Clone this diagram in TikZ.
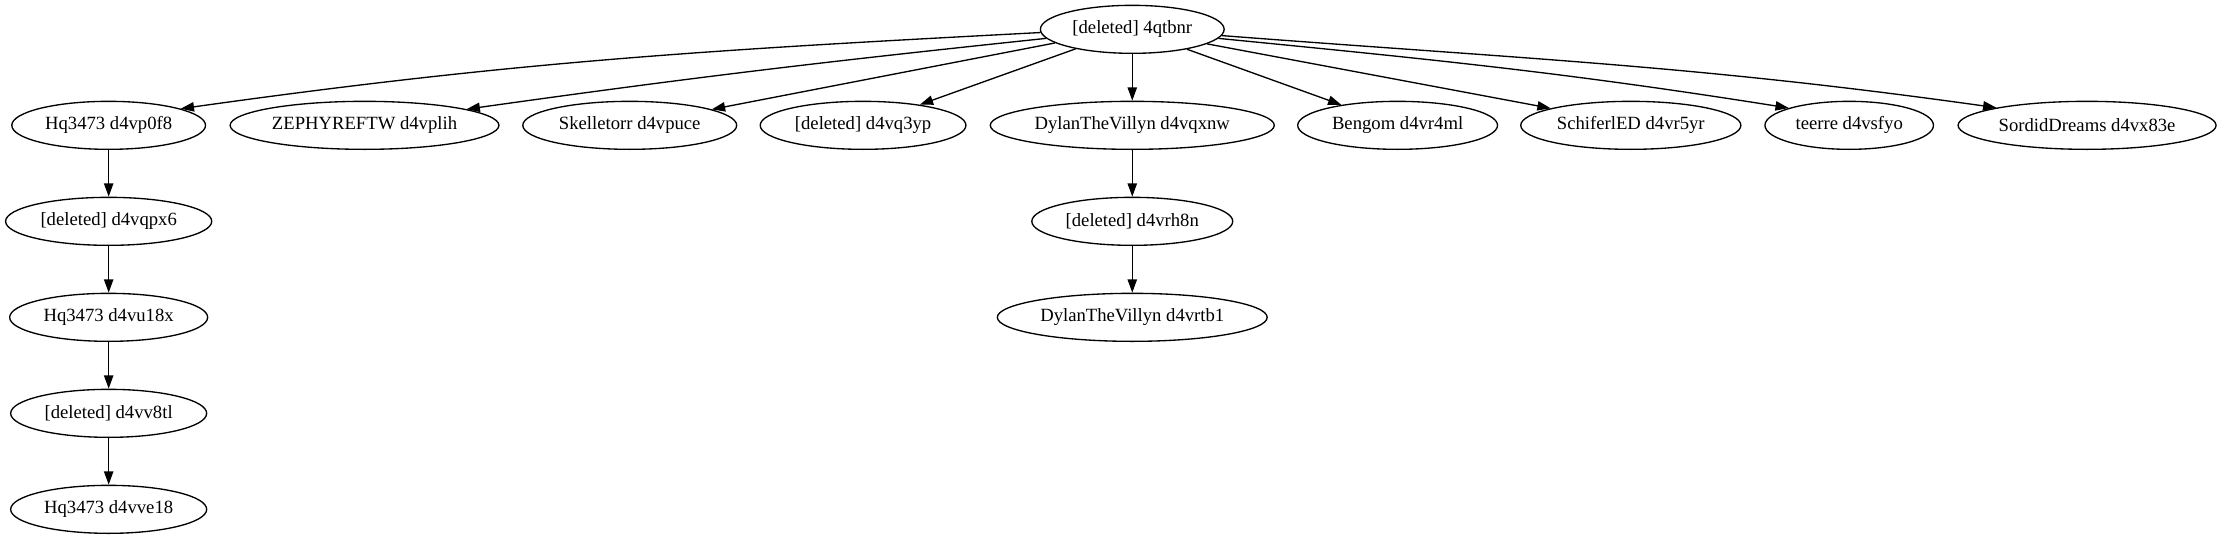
\documentclass[tikz,border=0pt]{standalone}
\usepackage{fontspec}
\setmainfont{Liberation Serif}
\usetikzlibrary{shapes.geometric, arrows.meta}
\begin{document}
\begin{tikzpicture}[x=1pt,y=1pt,
  nd/.style={draw, ellipse, inner sep=0pt, minimum height=36pt, line width=1pt,
    font=\fontsize{14}{16}\selectfont},
  edge/.style={-{Triangle[length=10pt,width=7pt]}, line width=1pt}]
\useasboundingbox (0,0) rectangle (1666.5,-404.25);
% root and first row
\node[nd, minimum width=137.8pt] (root) at (849.2,-22) {\makebox[0pt]{[deleted] 4qtbnr}};
\node[nd, minimum width=145.3pt] (hqa) at (81.5,-94) {\makebox[0pt]{Hq3473 d4vp0f8}};
\node[nd, minimum width=201.6pt] (zeph) at (273.4,-94) {\makebox[0pt]{ZEPHYREFTW d4vplih}};
\node[nd, minimum width=160.4pt] (skel) at (472.3,-94) {\makebox[0pt]{Skelletorr d4vpuce}};
\node[nd, minimum width=154.3pt] (qthree) at (647.3,-94) {\makebox[0pt]{[deleted] d4vq3yp}};
\node[nd, minimum width=213pt] (dylana) at (849.2,-94) {\makebox[0pt]{DylanTheVillyn d4vqxnw}};
\node[nd, minimum width=149.9pt] (bengom) at (1048.2,-94) {\makebox[0pt]{Bengom d4vr4ml}};
\node[nd, minimum width=165.1pt] (schif) at (1223.1,-94) {\makebox[0pt]{SchiferlED d4vr5yr}};
\node[nd, minimum width=126.4pt] (teerre) at (1386.9,-94) {\makebox[0pt]{teerre d4vsfyo}};
\node[nd, minimum width=193.5pt] (sordid) at (1565.3,-94) {\makebox[0pt]{SordidDreams d4vx83e}};
% left chain
\node[nd, minimum width=154.6pt] (qpx) at (81.5,-166) {\makebox[0pt]{[deleted] d4vqpx6}};
\node[nd, minimum width=148.5pt] (hqb) at (81.5,-238) {\makebox[0pt]{Hq3473 d4vu18x}};
\node[nd, minimum width=147pt] (veight) at (81.5,-310) {\makebox[0pt]{[deleted] d4vv8tl}};
\node[nd, minimum width=147pt] (hqc) at (81.5,-382) {\makebox[0pt]{Hq3473 d4vve18}};
% middle chain
\node[nd, minimum width=150.7pt] (rheight) at (849.2,-166) {\makebox[0pt]{[deleted] d4vrh8n}};
\node[nd, minimum width=202.4pt] (dylanb) at (849.2,-238) {\makebox[0pt]{DylanTheVillyn d4vrtb1}};
% edges from root
\draw[edge] (root.182.5) to[out=183, in=8] (hqa.13);
\draw[edge] (root.186.3) to[out=186, in=8] (zeph.9.9);
\draw[edge] (root.190.4) -- (skel.11.2);
\draw[edge] (root.199.7) -- (qthree.20.5);
\draw[edge] (root) -- (dylana);
\draw[edge] (root.340.1) -- (bengom.160.3);
\draw[edge] (root.349.3) -- (schif.168.9);
\draw[edge] (root.354.8) to[out=-5.6, in=171] (teerre.164.2);
\draw[edge] (root.356.8) to[out=-4.4, in=172] (sordid.169.6);
% chains
\draw[edge] (hqa) -- (qpx);
\draw[edge] (qpx) -- (hqb);
\draw[edge] (hqb) -- (veight);
\draw[edge] (veight) -- (hqc);
\draw[edge] (dylana) -- (rheight);
\draw[edge] (rheight) -- (dylanb);
\end{tikzpicture}
\end{document}
